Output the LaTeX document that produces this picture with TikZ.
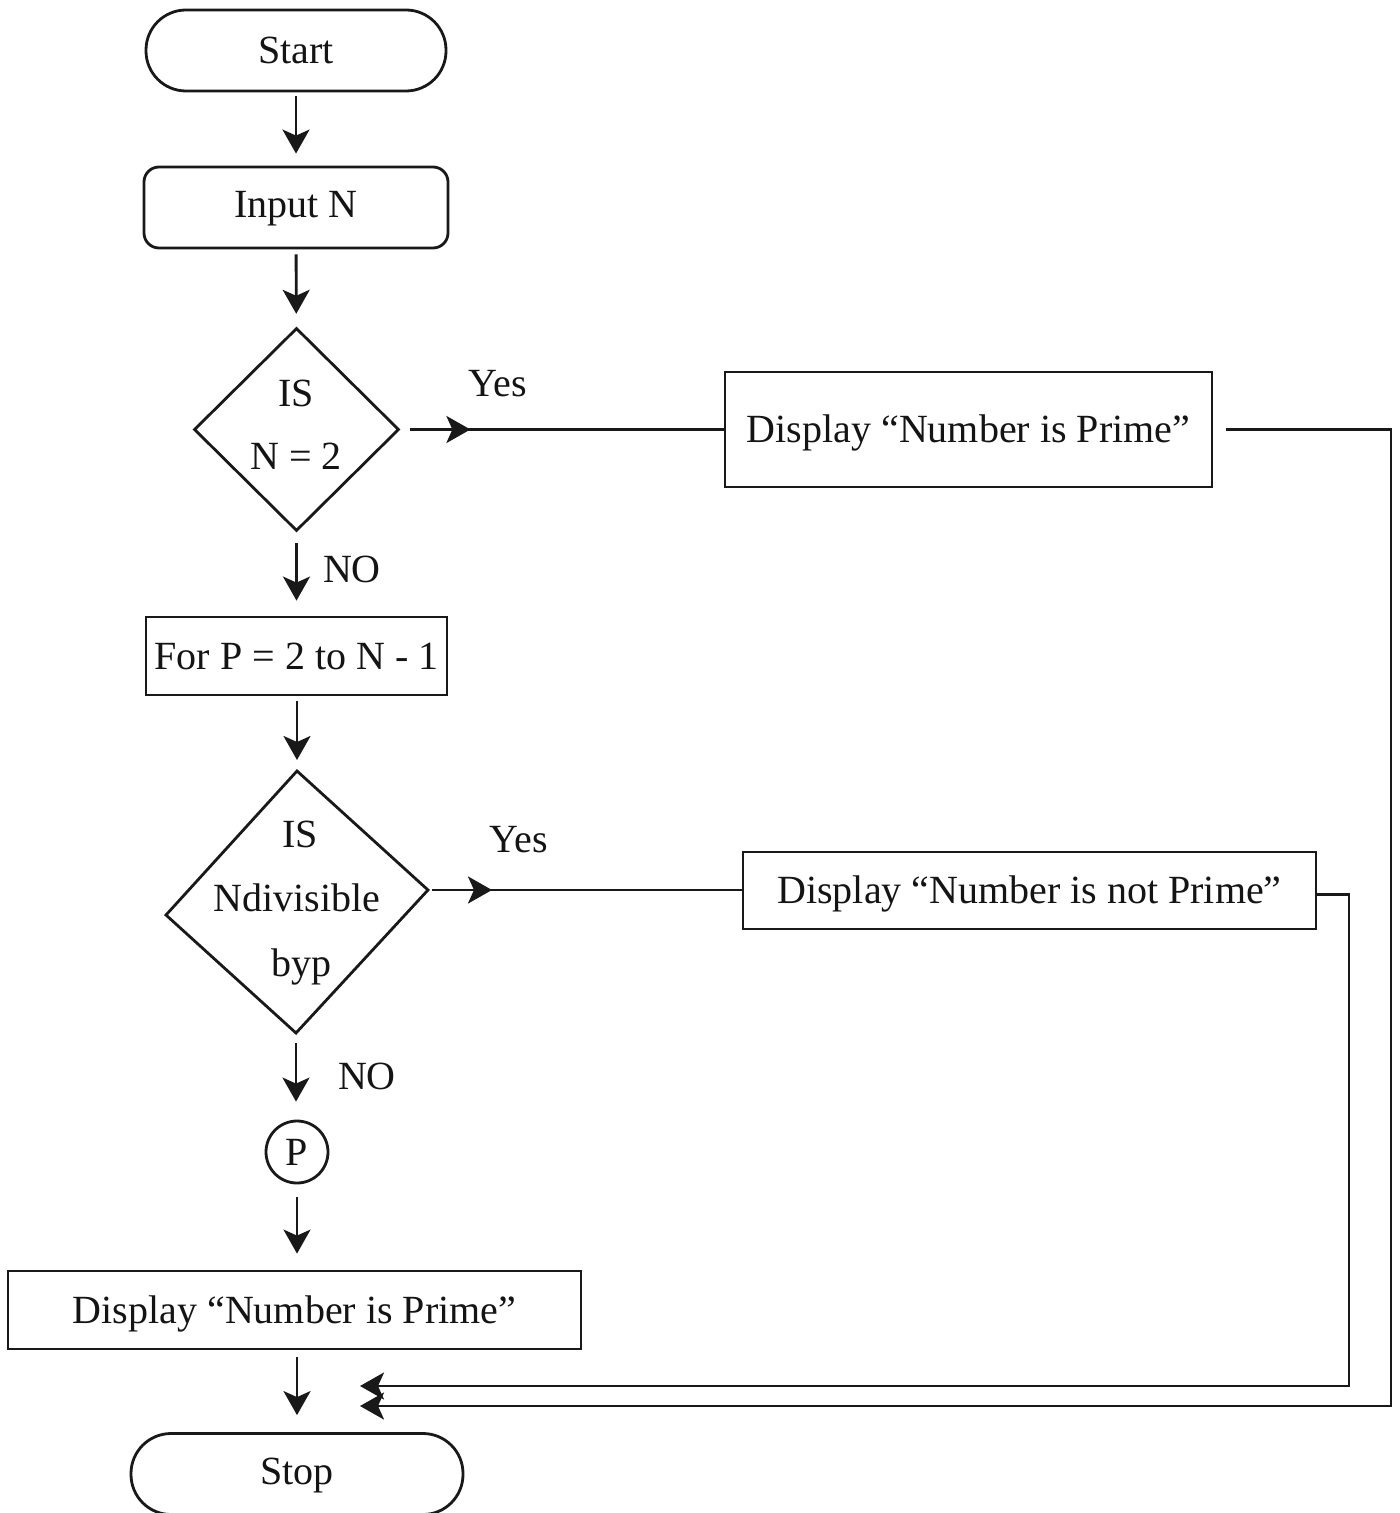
\documentclass[tikz,border=0pt]{standalone}
\usepackage{fontspec}
\setmainfont{Liberation Serif}
\usetikzlibrary{shapes.geometric,arrows.meta,decorations.markings}
\tikzset{
  txt/.style={font=\fontsize{20pt}{32pt}\selectfont, inner sep=0pt, text=black!92, text height=13.2pt, text depth=0pt},
  ln/.style={line width=1.4pt, draw=black!90},
  terminal/.style={txt, ln, rectangle, rounded corners=20pt},
  inputbox/.style={txt, ln, rectangle, rounded corners=7.5pt},
  procbox/.style={txt, ln, rectangle},
  decision/.style={ln, diamond, inner sep=0pt, aspect=1},
  connector/.style={txt, ln, circle, minimum size=31pt},
  tip/.tip={Stealth[length=12pt,width=13.5pt,inset=3pt]},
  flow/.style={ln, -tip},
  midflow/.style={ln, postaction={decorate}, decoration={markings, mark=at position 30pt with {\arrow{tip}}}},
  lbl/.style={txt, anchor=center}
}
\begin{document}
\begin{tikzpicture}[x=0.5pt,y=-0.5pt]
\useasboundingbox[fill=white] (0,0) rectangle (1399,1513);

% main column
\node[terminal, minimum width=150pt, minimum height=40.5pt] (start) at (296,50.5) {Start};
\node[inputbox, minimum width=152pt, minimum height=40.5pt] (input) at (296,207.5) {\raisebox{1.5pt}{Input N}};
\node[decision, minimum width=102.5pt, minimum height=101.5pt] (d1) at (296.5,429.5) {};
\node[lbl] (d1a) at (296,393) {IS};
\node[lbl] (d1b) at (296,456) {N = 2};
\node[procbox, minimum width=150.5pt, minimum height=39pt] (for) at (296.5,656) {For P = 2 to N - 1};

% second decision (slightly irregular diamond)
\coordinate (d2t) at (297,771);
\coordinate (d2r) at (428,890);
\coordinate (d2b) at (296,1033);
\coordinate (d2l) at (166,915);
\draw[ln, line join=miter] (d2t) -- (d2r) -- (d2b) -- (d2l) -- cycle;
\node[lbl] (d2a) at (300,834) {IS};
\node[lbl] (d2bl) at (297,898) {Ndivisible};
\node[lbl] (d2c) at (301,963) {byp};

\node[connector] (p) at (297,1152) {P};
\node[procbox, minimum width=286.5pt, minimum height=39pt] (disp3) at (294.5,1310) {Display “Number is Prime”};
\node[terminal, minimum width=166pt, minimum height=40.5pt] (stop) at (297,1474) {\raisebox{1.5pt}{Stop}};

% right column
\node[procbox, minimum width=243.5pt, minimum height=57.5pt] (disp1) at (968.5,429.5) {Display “Number is Prime”};
\node[procbox, minimum width=286.5pt, minimum height=38.5pt] (disp2) at (1029.5,890.5) {Display “Number is not Prime”};

% labels
\node[lbl] (yes1) at (498,383) {Yes};
\node[lbl] (yes2) at (519,839) {Yes};
\node[lbl] (no1) at (352,569) {NO};
\node[lbl] (no2) at (367,1076) {NO};

% vertical flow
\draw[flow, shorten <=2pt, shorten >=6pt] (start) -- (input);
\draw[flow, shorten <=2.5pt, shorten >=6.5pt] (input) -- (d1);
\draw[flow, shorten <=5.5pt, shorten >=7.5pt] (d1) -- (for);
\draw[flow, shorten <=2.5pt, shorten >=5.5pt] (for.south -| d2t) -- (d2t);
\draw[flow, shorten <=5pt, shorten >=9pt] (d2b) -- (d2b |- p.north);
\draw[flow, shorten <=6.5pt, shorten >=8pt] (p) -- (p |- disp3.north);
\draw[flow, shorten <=3.5pt, shorten >=8.5pt] (disp3.south -| stop.north) -- (stop.north);

% yes branches
\draw[midflow] ([xshift=5pt]d1.east) -- (disp1.west);
\draw[midflow] ([xshift=2pt]d2r) -- (d2r -| disp2.west);

% return lines
\coordinate (c1) at (1391,1406);
\coordinate (e1) at (360,1406);
\coordinate (c2) at (1349,1386);
\coordinate (e2) at (360,1386);
\draw[flow] ([xshift=6.5pt]disp1.east) -| (c1) -- (e1);
\draw[flow] ([yshift=-2pt]disp2.east) -| (c2) -- (e2);
\end{tikzpicture}
\end{document}
